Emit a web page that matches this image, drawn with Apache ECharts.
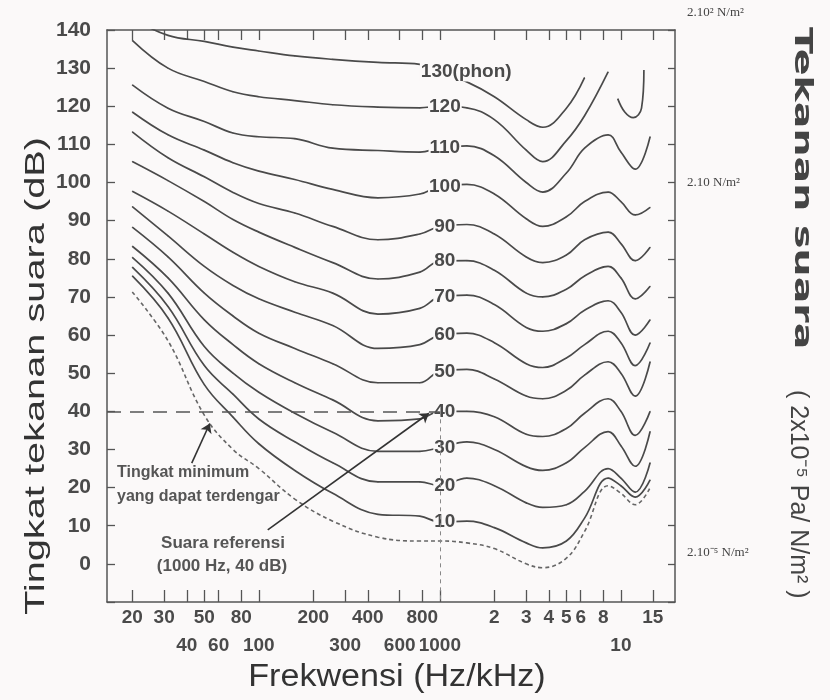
<!DOCTYPE html>
<html>
<head>
<meta charset="utf-8">
<script src="https://cdn.jsdelivr.net/npm/echarts@6/dist/echarts.min.js"></script>
<style>
  html, body { margin: 0; padding: 0; background: #fbf9f9; }
  #chart { width: 830px; height: 700px; }
</style>
</head>
<body>
<div id="chart"></div>
<script>
// frequencies (Hz) at which the curves were read
const freqHz = [20, 31.5, 50, 72, 100, 158, 256, 455, 775, 1000, 1410, 2000, 3000, 3700, 5000, 6300, 8500, 10000, 12000, 14500];

// sound pressure level (dB) of each equal-loudness curve
const phon130 = [143, 138.6, 137, 135.5, 134.5, 133.2, 132.3, 131.5, 131, 129, 126.4, 122.5, 116.5, 114.5, 119.5, 127.5, null, null, null, null];
const phon120 = [137.3, 130, 126.5, 123.8, 122.5, 121.5, 120.4, 119.8, 119.6, 120, 119.6, 116.5, 108.5, 105.5, 111, 117.5, 129, null, null, null];
const phon110 = [125.6, 119.5, 116, 113, 112, 111.5, 109, 108.4, 108, 109, 109.6, 107, 100, 97.5, 102.5, 109, 112.5, 108, 103.5, 112];
const phon100 = [118.5, 112.5, 108.5, 105.2, 103, 100.8, 98.2, 96, 97, 99, 99.5, 97, 90.5, 88.5, 91, 95, 97.5, 95, 91.5, 93.5];
const phon90 = [113.3, 106.5, 101.5, 97.4, 94.5, 92, 88.5, 85, 86.5, 88.5, 89, 86.5, 80.5, 79, 81, 85, 87, 84, 79.5, 83];
const phon80 = [105.5, 100.5, 95, 90.3, 87, 83, 79, 74.7, 76.5, 79.4, 79.5, 77, 71, 70, 72, 75.5, 78, 75, 69.5, 72.8];
const phon70 = [97.7, 92.5, 86.5, 81.7, 78, 74, 71, 65.5, 67, 70, 70.5, 68, 62, 61, 63, 66.5, 69, 66, 60, 64];
const phon60 = [93.7, 86, 78, 73, 69.5, 66, 62.5, 56.5, 57.5, 60, 60.5, 58, 52.5, 51.5, 54, 57.5, 61, 58, 52, 58];
const phon50 = [88.3, 80.5, 71, 65, 60.5, 56.5, 52.5, 47.5, 47.5, 50.5, 51, 48.5, 44, 43.3, 45.5, 49.5, 53, 50, 44, 53];
const phon40 = [83.3, 75, 64, 57.5, 52.5, 47.5, 43, 37.5, 38, 40, 40, 38.6, 34, 33.4, 35.5, 39.5, 43.3, 40, 33.7, 40];
const phon30 = [80.4, 71, 57, 50, 45, 39.5, 34.5, 29.5, 29.5, 30.5, 32, 30, 25.5, 24.5, 26.5, 30.5, 34.7, 31, 25.6, 34.7];
const phon20 = [77.8, 67.5, 52, 44.5, 38, 32, 26.5, 21.5, 21.5, 20.5, 22.5, 20.5, 16, 14.8, 15.5, 19, 25, 22.5, 18.8, 26.5];
const phon10 = [75.5, 64.5, 47, 38.5, 31.5, 24.5, 18.5, 13, 12.5, 11, 11.2, 9.5, 5.5, 4.2, 6, 12, 22.5, 20.5, 17.5, 22];
const threshold = [71.3, 58.5, 39, 30, 25, 17, 11.2, 7, 6, 6, 5.5, 4, 0, -1, 1.5, 8.5, 20.5, 18.5, 15.5, 20];

// short high-frequency piece drawn near the 120 phon curve
const hookHz = [9600, 10500, 11700, 13000, 13400];
const hookDb = [122, 118.5, 117, 119.5, 129.5];

const curveNames = ['130(phon)', '120', '110', '100', '90', '80', '70', '60', '50', '40', '30', '20', '10'];
const curveValues = [phon130, phon120, phon110, phon100, phon90, phon80, phon70, phon60, phon50, phon40, phon30, phon20, phon10];

// x axis ticks and labels
const tickHz = [20, 30, 40, 50, 60, 80, 100, 200, 300, 400, 600, 800, 1000, 2000, 3000, 4000, 5000, 6000, 8000, 10000, 15000];
const tickText = ['20', '30', '40', '50', '60', '80', '100', '200', '300', '400', '600', '800', '1000', '2', '3', '4', '5', '6', '8', '10', '15'];
const lowerRowHz = [40, 60, 100, 300, 600, 1000, 10000];

const BG = '#fbf9f9';
const INK = '#4a4a4a';
const SANS = '"Liberation Sans", Arial, sans-serif';

function tickLabel(v) {
  let best = 0;
  for (let i = 1; i < tickHz.length; i++) {
    if (Math.abs(Math.log(tickHz[i] / v)) < Math.abs(Math.log(tickHz[best] / v))) best = i;
  }
  const lower = lowerRowHz.indexOf(tickHz[best]) >= 0;
  return (lower ? '\n' : '') + tickText[best];
}

function pairs(xs, ys) {
  const out = [];
  xs.forEach((x, i) => { if (ys[i] != null) out.push([x, ys[i]]); });
  return out;
}

const series = curveValues.map((vals, k) => {
  const data = pairs(freqHz, vals).map(p => {
    if (p[0] !== 1000) return p;
    const first = k === 0;
    return {
      value: p,
      label: {
        show: true,
        formatter: curveNames[k],
        position: 'inside',
        align: first ? 'left' : 'center',
        offset: first ? [-20, 0] : [5, 0],
        fontSize: 19,
        fontWeight: 'bold',
        fontFamily: SANS,
        color: INK,
        backgroundColor: BG,
        padding: [0, 1]
      }
    };
  });
  return {
    type: 'line',
    data: data,
    smooth: 0.4,
    symbol: 'circle',
    symbolSize: 1,
    itemStyle: { color: INK },
    lineStyle: { color: INK, width: 1.7 },
    z: 3
  };
});

series.push({
  type: 'line',
  data: pairs(hookHz, hookDb),
  smooth: 0.4,
  showSymbol: false,
  lineStyle: { color: INK, width: 1.7 }
});

series.push({
  type: 'line',
  data: pairs(freqHz, threshold),
  smooth: 0.4,
  showSymbol: false,
  lineStyle: { color: '#666', width: 1.6, type: [4, 3] }
});

// reference lines and arrows
series.push({
  type: 'line',
  data: [],
  markLine: {
    silent: true,
    animation: false,
    label: { show: false },
    symbol: ['none', 'none'],
    data: [
      [{ coord: [14.5, 40], lineStyle: { type: [14, 9], color: '#555', width: 1.5 } }, { coord: [1000, 40] }],
      [{ coord: [1000, 40], lineStyle: { type: [4, 4], color: '#888', width: 1 } }, { coord: [1000, -10] }]
    ]
  }
});
series.push({
  type: 'line',
  data: [],
  markLine: {
    silent: true,
    animation: false,
    label: { show: false },
    symbol: ['none', 'arrow'],
    symbolSize: 9,
    lineStyle: { type: 'solid', color: '#333', width: 1.6 },
    data: [
      [{ coord: [42.6, 26.4] }, { coord: [53.6, 36.8] }],
      [{ coord: [112, 8.9] }, { coord: [870, 39.5] }]
    ]
  }
});

const axisLineStyle = { color: '#555', width: 1.5 };

const option = {
  backgroundColor: BG,
  animation: false,
  grid: { left: 107, right: 155, top: 30, bottom: 98 },
  xAxis: [
    {
      type: 'log',
      min: 14.5,
      max: 19900,
      position: 'bottom',
      axisLine: { show: true, onZero: false, lineStyle: axisLineStyle },
      axisTick: { show: true, inside: true, length: 12, customValues: tickHz, lineStyle: { color: '#555', width: 1.3 } },
      minorTick: { show: false },
      splitLine: { show: false },
      axisLabel: {
        customValues: tickHz,
        formatter: tickLabel,
        margin: 2,
        lineHeight: 28,
        fontSize: 19,
        fontWeight: 'bold',
        fontFamily: SANS,
        color: INK
      }
    },
    {
      type: 'log',
      min: 14.5,
      max: 19900,
      position: 'top',
      axisLine: { show: true, onZero: false, lineStyle: axisLineStyle },
      axisTick: { show: true, inside: true, length: 10, customValues: tickHz, lineStyle: { color: '#555', width: 1.3 } },
      splitLine: { show: false },
      axisLabel: { show: false }
    }
  ],
  yAxis: [
    {
      type: 'value',
      min: -10,
      max: 140,
      interval: 10,
      axisLine: { show: true, onZero: false, lineStyle: axisLineStyle },
      axisTick: { show: true, inside: true, length: 8, lineStyle: { color: '#555', width: 1.3 } },
      splitLine: { show: false },
      axisLabel: {
        formatter: v => (v < 0 ? '' : String(v)),
        margin: 16,
        fontSize: 21,
        fontWeight: 'bold',
        fontFamily: SANS,
        color: INK
      }
    },
    {
      type: 'value',
      min: -10,
      max: 140,
      interval: 10,
      position: 'right',
      axisLine: { show: true, onZero: false, lineStyle: axisLineStyle },
      axisTick: { show: true, inside: true, length: 7, lineStyle: { color: '#555', width: 1.3 } },
      splitLine: { show: false },
      axisLabel: { show: false }
    }
  ],
  graphic: [
    {
      type: 'text', x: 36, y: 615, rotation: Math.PI / 2, scaleX: 1.42,
      style: { text: 'Tingkat tekanan suara (dB)', align: 'left', verticalAlign: 'middle',
        font: '28px ' + SANS, fill: '#333' }
    },
    {
      type: 'text', x: 397, y: 677, scaleX: 1.1,
      style: { text: 'Frekwensi (Hz/kHz)', align: 'center', verticalAlign: 'middle',
        font: '31px ' + SANS, fill: '#333' }
    },
    {
      type: 'text', x: 801, y: 27, rotation: -Math.PI / 2, scaleX: 1.58,
      style: { text: 'Tekanan suara', align: 'left', verticalAlign: 'middle',
        font: 'bold 25px "DejaVu Sans", sans-serif', fill: '#444' }
    },
    {
      type: 'text', x: 798, y: 390, rotation: -Math.PI / 2,
      style: { text: '( 2x10⁻⁵ Pa/ N/m² )', align: 'left', verticalAlign: 'middle',
        font: '25px ' + SANS, fill: '#444' }
    },
    {
      type: 'text', x: 687, y: 13,
      style: { text: '2.10² N/m²', align: 'left', verticalAlign: 'middle',
        font: '13px "Liberation Serif", serif', fill: '#444' }
    },
    {
      type: 'text', x: 687, y: 183,
      style: { text: '2.10 N/m²', align: 'left', verticalAlign: 'middle',
        font: '13px "Liberation Serif", serif', fill: '#444' }
    },
    {
      type: 'text', x: 687, y: 553,
      style: { text: '2.10⁻⁵ N/m²', align: 'left', verticalAlign: 'middle',
        font: '13px "Liberation Serif", serif', fill: '#444' }
    },
    {
      type: 'text', x: 117, y: 473,
      style: { text: 'Tingkat minimum', align: 'left', verticalAlign: 'middle',
        font: 'bold 16px ' + SANS, fill: '#555' }
    },
    {
      type: 'text', x: 117, y: 497,
      style: { text: 'yang dapat terdengar', align: 'left', verticalAlign: 'middle',
        font: 'bold 16px ' + SANS, fill: '#555' }
    },
    {
      type: 'text', x: 223, y: 543,
      style: { text: 'Suara referensi', align: 'center', verticalAlign: 'middle',
        font: 'bold 17px ' + SANS, fill: '#555' }
    },
    {
      type: 'text', x: 222, y: 566,
      style: { text: '(1000 Hz, 40 dB)', align: 'center', verticalAlign: 'middle',
        font: 'bold 17px ' + SANS, fill: '#555' }
    }
  ],
  series: series
};

const chart = echarts.init(document.getElementById('chart'));
chart.setOption(option);
</script>
</body>
</html>
